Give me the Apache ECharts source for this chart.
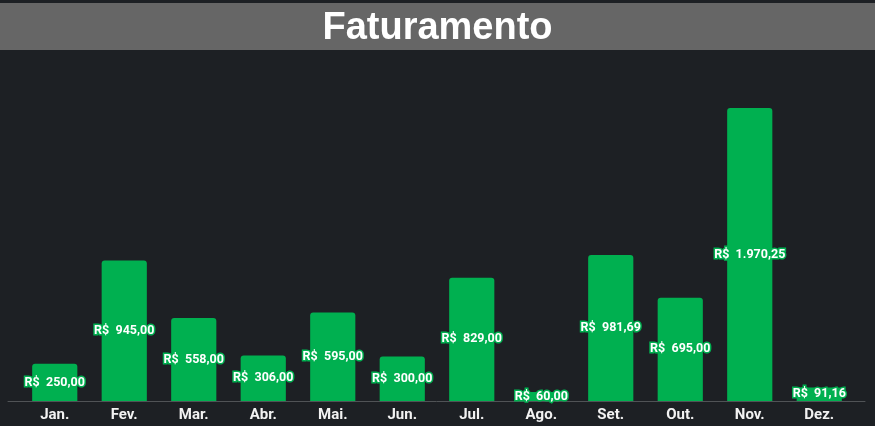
<!DOCTYPE html>
<html>
<head>
<meta charset="utf-8">
<script src="https://cdn.jsdelivr.net/npm/echarts@6/dist/echarts.min.js"></script>
<style>
  html, body { margin: 0; padding: 0; background: #1d2024; }
  #main { width: 875px; height: 426px; }
</style>
</head>
<body>
<div id="main"></div>
<script>
var meses = ['Jan.', 'Fev.', 'Mar.', 'Abr.', 'Mai.', 'Jun.', 'Jul.', 'Ago.', 'Set.', 'Out.', 'Nov.', 'Dez.'];
var faturamento = [250.00, 945.00, 558.00, 306.00, 595.00, 300.00, 829.00, 60.00, 981.69, 695.00, 1970.25, 91.16];

function moeda(v) {
    var partes = v.toFixed(2).split('.');
    var inteiro = partes[0].replace(/\B(?=(\d{3})+(?!\d))/g, '.');
    return 'R$  ' + inteiro + ',' + partes[1];
}

var myChart = echarts.init(document.getElementById('main'));
var option = {
    backgroundColor: '#1d2024',
    animation: false,
    graphic: [{
        type: 'rect',
        shape: { x: 0, y: 3, width: 875, height: 47 },
        style: { fill: '#666666' },
        z: 0
    }],
    title: {
        text: 'Faturamento',
        left: 'center',
        top: 5,
        textStyle: {
            color: '#ffffff',
            fontFamily: 'Liberation Sans',
            fontWeight: 'bold',
            fontSize: 38
        },
        z: 5
    },
    grid: [
        { left: 20, right: 21, top: 108, bottom: 25 },
        { left: 8, right: 10, top: 108, bottom: 25 }
    ],
    xAxis: [{
        type: 'category',
        data: meses,
        gridIndex: 0,
        axisLine: { show: false },
        axisTick: { show: false },
        axisLabel: {
            color: '#f2f2f2',
            fontFamily: 'Roboto',
            fontWeight: 'bold',
            fontSize: 15,
            margin: 7
        }
    }, {
        type: 'category',
        data: [''],
        gridIndex: 1,
        axisLine: { lineStyle: { color: '#505356', width: 1 } },
        axisTick: { show: false },
        axisLabel: { show: false }
    }],
    yAxis: [{
        type: 'value',
        gridIndex: 0,
        min: 0,
        max: 'dataMax',
        show: false
    }, {
        type: 'value',
        gridIndex: 1,
        show: false
    }],
    series: [{
        type: 'bar',
        data: faturamento,
        barWidth: '65%',
        itemStyle: {
            color: '#00b050',
            borderRadius: [3, 3, 0, 0]
        },
        label: {
            show: true,
            position: 'inside',
            color: '#ffffff',
            fontFamily: 'Roboto',
            fontWeight: 'bold',
            fontSize: 12.5,
            textBorderColor: '#00b050',
            textBorderWidth: 3,
            formatter: function (p) { return moeda(p.value); }
        }
    }]
};
myChart.setOption(option);
</script>
</body>
</html>
